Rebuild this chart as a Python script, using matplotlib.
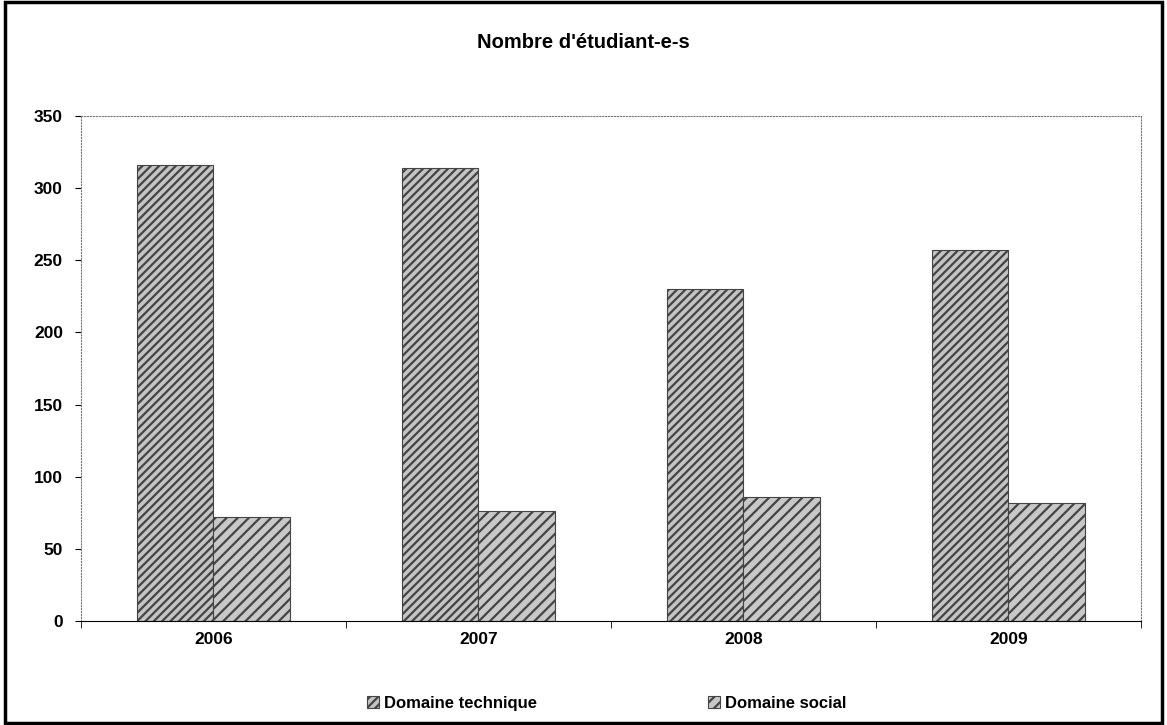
import numpy as np
import matplotlib.pyplot as plt
from matplotlib.patches import Rectangle

# data
years = ["2006", "2007", "2008", "2009"]
technique = [316, 314, 230, 257]
social = [72, 76, 86, 82]
series_names = ["Domaine technique", "Domaine social"]

plt.rcParams['font.family'] = ['Liberation Sans', 'DejaVu Sans']
plt.rcParams['hatch.linewidth'] = 1.6
plt.rcParams['hatch.color'] = '#222222'

fig = plt.figure(figsize=(11.67, 7.25), dpi=100)
ax = fig.add_axes([0.0694, 0.1434, 0.9083, 0.6966])

x = np.arange(len(years))
w = 0.287
b1 = ax.bar(x - w/2, technique, w, facecolor='#c4c4c4', edgecolor='#444444',
            hatch='////', linewidth=0.8, label=series_names[0])
b2 = ax.bar(x + w/2, social, w, facecolor='#c8c8c8', edgecolor='#444444',
            hatch='///', linewidth=0.8, label=series_names[1])

ax.set_xlim(-0.5, len(years) - 0.5)
ax.set_ylim(0, 350)
ax.set_yticks(np.arange(0, 351, 50))
ax.set_xticks(x)
ax.set_xticklabels(years)
ax.set_xticks(np.arange(-0.5, len(years), 1), minor=True)
ax.tick_params(axis='x', which='major', length=0, pad=8, labelsize=12.5)
ax.tick_params(axis='x', which='minor', length=5, direction='out')
ax.tick_params(axis='y', length=4, direction='out', pad=9, labelsize=12.5)
for lab in ax.get_xticklabels() + ax.get_yticklabels():
    lab.set_fontweight('bold')

for side in ['top', 'right', 'left']:
    ax.spines[side].set_linestyle(':')
    ax.spines[side].set_color('#777777')
ax.spines['bottom'].set_color('black')

fig.text(0.5, 0.941, "Nombre d'étudiant-e-s", ha='center', va='center',
         fontsize=14.5, fontweight='bold')

leg = fig.legend(handles=[b1, b2], loc='center', bbox_to_anchor=(0.52, 0.03),
                 ncol=2, frameon=False, fontsize=12, handlelength=0.7,
                 handleheight=0.7, handletextpad=0.3, columnspacing=10.3)
for t in leg.get_texts():
    t.set_fontweight('bold')

fig.patches.append(Rectangle((0.004, 0.003), 0.992, 0.994, transform=fig.transFigure,
                             fill=False, edgecolor='black', linewidth=2.5))

fig.savefig('out.png', dpi=100)
